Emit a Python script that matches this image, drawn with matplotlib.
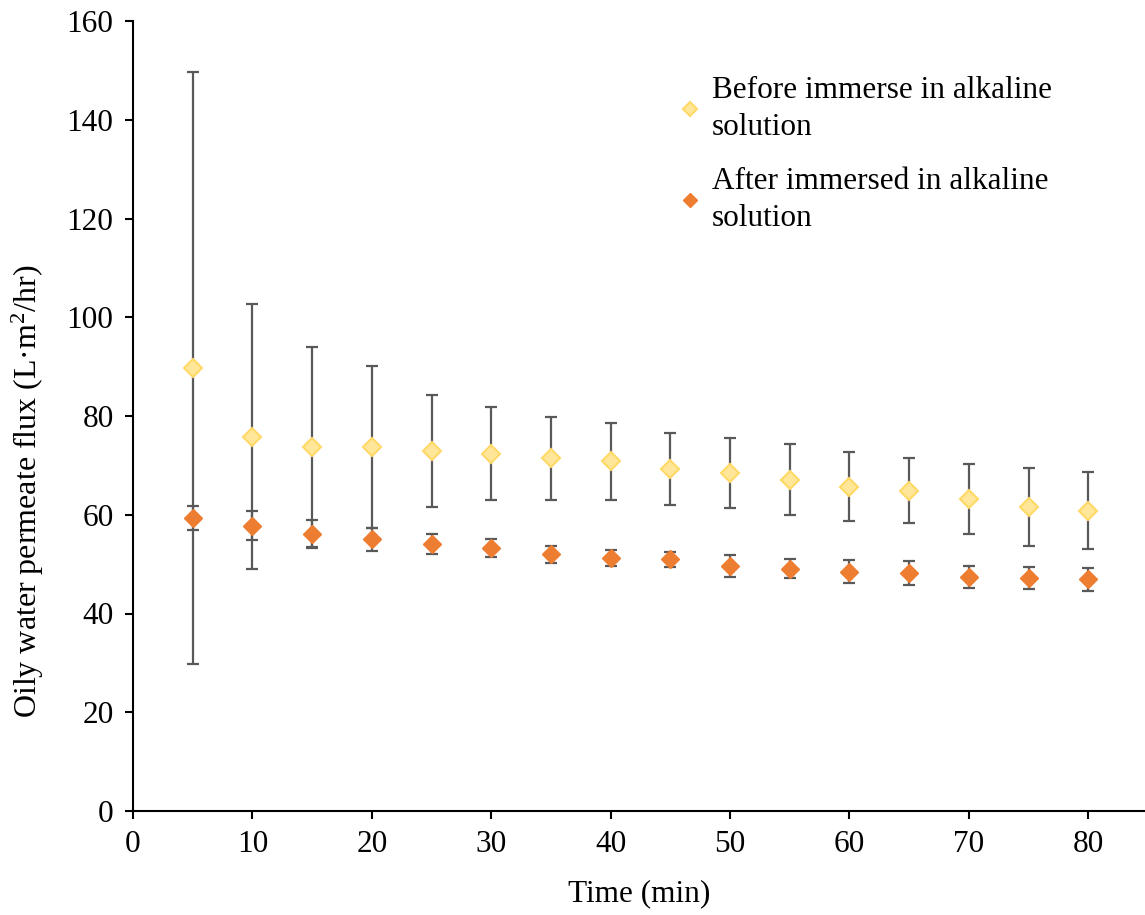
import matplotlib.pyplot as plt
import numpy as np

# time points (min)
time = [5, 10, 15, 20, 25, 30, 35, 40, 45, 50, 55, 60, 65, 70, 75, 80]

# before immersion in alkaline solution
before_mean = [89.7, 75.8, 73.7, 73.8, 72.9, 72.4, 71.4, 70.8, 69.3, 68.4, 67.1, 65.7, 64.9, 63.2, 61.6, 60.8]
before_err = [60.0, 26.8, 20.2, 16.4, 11.3, 9.5, 8.4, 7.8, 7.3, 7.1, 7.2, 7.0, 6.6, 7.1, 7.9, 7.8]

# after immersion in alkaline solution
after_mean = [59.4, 57.8, 56.1, 55.0, 54.1, 53.2, 52.0, 51.2, 51.0, 49.6, 49.1, 48.5, 48.2, 47.4, 47.2, 46.9]
after_err = [2.4, 3.0, 2.9, 2.3, 2.0, 1.8, 1.75, 1.6, 1.5, 2.3, 2.0, 2.3, 2.5, 2.3, 2.25, 2.25]

plt.rcParams['font.family'] = ['Liberation Serif', 'DejaVu Serif']
plt.rcParams['font.size'] = 22.5
plt.rcParams['mathtext.fontset'] = 'custom'
plt.rcParams['mathtext.rm'] = 'Liberation Serif'
plt.rcParams['mathtext.it'] = 'Liberation Serif:italic'

fig = plt.figure(figsize=(11.45, 9.15), dpi=100)
ax = fig.add_axes([133 / 1145, 1 - 811 / 915, 1 - 133 / 1145, (811 - 21) / 915])

bar_kw = dict(fmt='none', ecolor='#595959', elinewidth=1.6, capsize=4.5, capthick=1.6, zorder=2)
ax.errorbar(time, before_mean, yerr=before_err, **bar_kw)
ax.errorbar(time, after_mean, yerr=after_err, **bar_kw)

ax.plot(time, before_mean, linestyle='none', marker='D', markersize=9.5,
        markerfacecolor='#FFE699', markeredgecolor='#FFD966', markeredgewidth=1.5,
        zorder=3, label='Before immerse in alkaline\nsolution')
ax.plot(time, after_mean, linestyle='none', marker='D', markersize=9.5,
        markerfacecolor='#ED7D31', markeredgecolor='#ED7D31', markeredgewidth=1.0,
        zorder=3, label='After immersed in alkaline\nsolution')

ax.set_xlim(0, (1145 - 133) / 11.94)
ax.set_ylim(0, 160)
ax.set_xticks(np.arange(0, 81, 10))
ax.set_yticks(np.arange(0, 161, 20))

for side in ['top', 'right']:
    ax.spines[side].set_visible(False)
for side in ['left', 'bottom']:
    ax.spines[side].set_linewidth(1.5)
ax.tick_params(direction='out', length=6, width=1.5, pad=8)

ax.set_xlabel('Time (min)', labelpad=14)
ax.set_ylabel('Oily water permeate flux (L·m$^{2}$/hr)', fontsize=23)
ax.yaxis.set_label_coords(-0.086, 0.405)

leg = ax.legend(loc='upper left', bbox_to_anchor=(651 / 1145, 1 - 48 / 915),
                bbox_transform=fig.transFigure, frameon=False, markerscale=0.8,
                handlelength=0.7, handletextpad=0.35, labelspacing=0.8)
for t in leg.get_texts():
    t.set_linespacing(1.35)

fig.savefig('out.png', dpi=100)
